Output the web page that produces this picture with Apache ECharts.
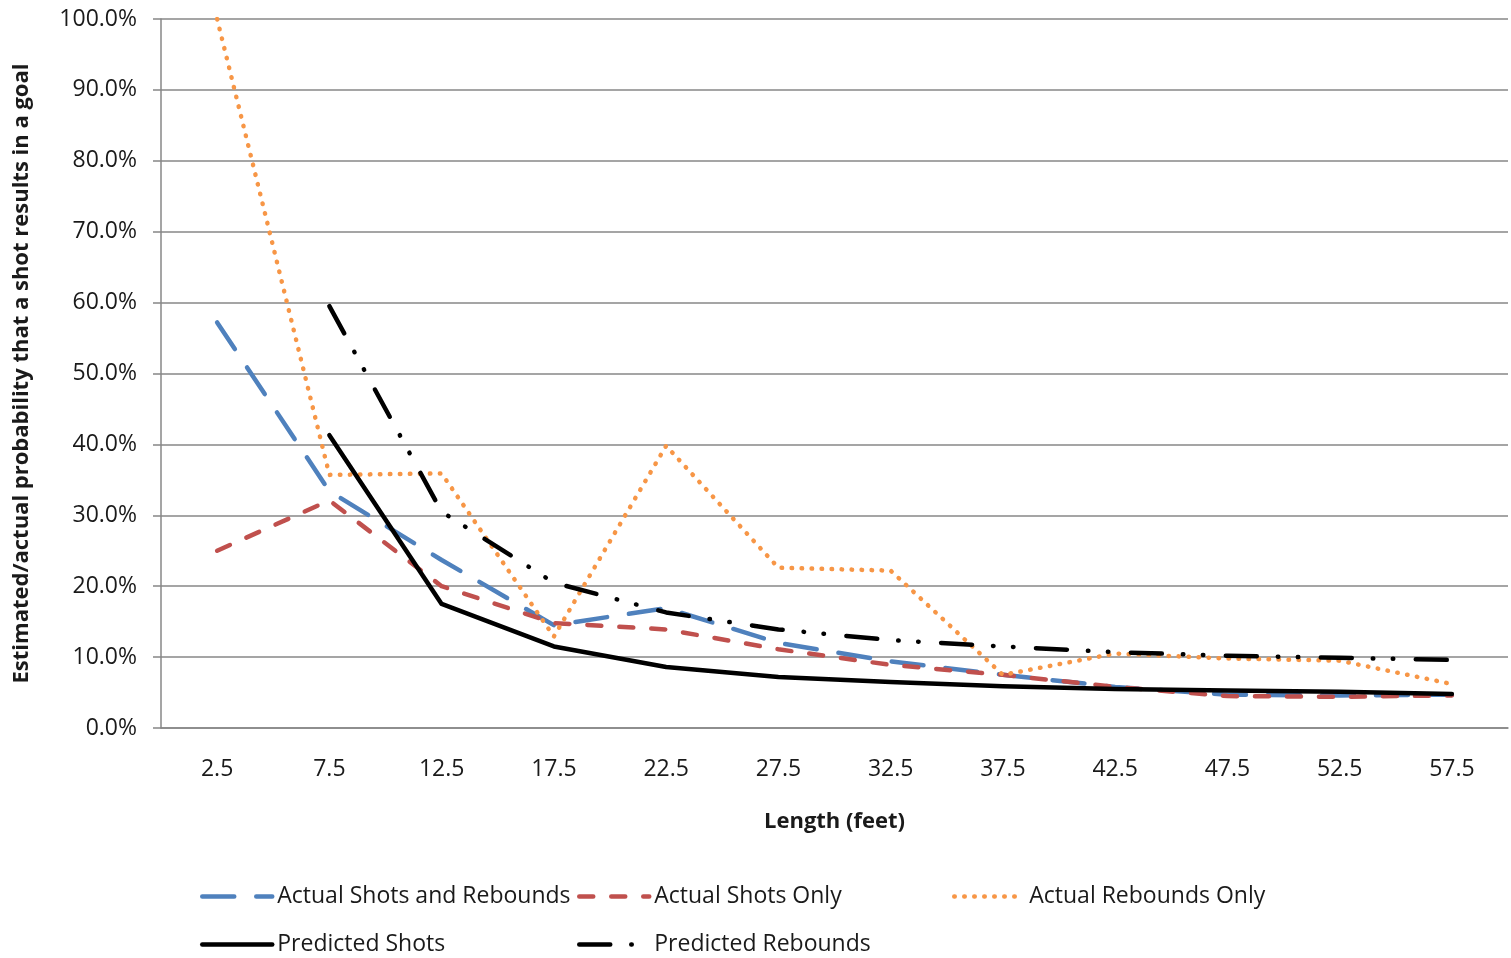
<!DOCTYPE html>
<html>
<head>
<meta charset="utf-8">
<title>Shot length vs goal probability</title>
<script src="https://cdn.jsdelivr.net/npm/echarts@6/dist/echarts.min.js"></script>
<style>
  html, body { margin: 0; padding: 0; background: #fff; }
  #chart { width: 1511px; height: 958px; }
</style>
</head>
<body>
<div id="chart"></div>
<script>
// Shot length buckets (feet)
const lengths = ['2.5', '7.5', '12.5', '17.5', '22.5', '27.5', '32.5', '37.5', '42.5', '47.5', '52.5', '57.5'];

// Probability (%) that a shot results in a goal
const actualShotsAndRebounds = [57.2, 33.4, 23.7, 14.5, 16.9, 12.0, 9.4, 7.5, 5.8, 4.7, 4.6, 4.7];
const actualShotsOnly        = [25.0, 32.1, 20.0, 14.8, 13.9, 11.1, 8.9, 7.5, 5.8, 4.5, 4.4, 4.6];
const actualReboundsOnly     = [100.0, 35.7, 35.9, 12.9, 39.8, 22.6, 22.2, 7.5, 10.5, 9.8, 9.5, 6.2];
const predictedShots         = [null, 41.3, 17.5, 11.5, 8.6, 7.2, 6.5, 5.9, 5.5, 5.3, 5.1, 4.8];
const predictedRebounds      = [null, 59.5, 30.5, 20.5, 16.3, 13.9, 12.4, 11.5, 10.7, 10.2, 9.9, 9.6];

const FONT = '"Open Sans", "DejaVu Sans", sans-serif';
const GRID_COLOR = '#878787';
const TEXT_COLOR = '#1a1a1a';

// Line styles shared by the series and their legend entries
const STYLES = {
  'Actual Shots and Rebounds': { color: '#4F81BD', width: 4.5, dash: [32, 22] },
  'Actual Shots Only':         { color: '#C0504D', width: 4.5, dash: [14, 18] },
  'Actual Rebounds Only':      { color: '#F79646', width: 4.5, dash: [0.5, 9.5] },
  'Predicted Shots':           { color: '#000000', width: 4.5, dash: 'solid' },
  'Predicted Rebounds':        { color: '#000000', width: 4.5, dash: [31, 21, 0.5, 19.5, 0.5, 22.5] }
};

const chart = echarts.init(document.getElementById('chart'), null, { renderer: 'canvas' });

function lineSeries(name, data) {
  const s = STYLES[name];
  return {
    name: name,
    type: 'line',
    data: data,
    symbol: 'none',
    showSymbol: false,
    connectNulls: false,
    animation: false,
    lineStyle: { color: s.color, width: s.width, type: s.dash, cap: 'round', join: 'round' },
    itemStyle: { color: s.color, opacity: 0 }
  };
}

function legendAt(name, left, top) {
  const s = STYLES[name];
  return {
    data: [name],
    left: left,
    top: top,
    padding: 0,
    orient: 'horizontal',
    itemWidth: 70,
    itemHeight: 14,
    itemGap: 6,
    itemStyle: { opacity: 0, borderWidth: 0 },
    lineStyle: { width: s.width, color: s.color, type: s.dash, cap: 'round' },
    textStyle: { fontFamily: FONT, fontSize: 23, color: TEXT_COLOR },
    selectedMode: false
  };
}

chart.setOption({
  backgroundColor: '#ffffff',
  animation: false,
  textStyle: { fontFamily: FONT },
  grid: { left: 161, right: 3, top: 19, bottom: 230, containLabel: false },
  legend: [
    legendAt('Actual Shots and Rebounds', 200, 885),
    legendAt('Actual Shots Only', 577, 885),
    legendAt('Actual Rebounds Only', 952, 885),
    legendAt('Predicted Shots', 200, 933),
    legendAt('Predicted Rebounds', 577, 933)
  ],
  xAxis: {
    type: 'category',
    data: lengths,
    boundaryGap: true,
    name: 'Length (feet)',
    nameLocation: 'middle',
    nameGap: 83,
    nameTextStyle: { fontFamily: FONT, fontSize: 22, fontWeight: 'bold', color: TEXT_COLOR },
    axisLine: { lineStyle: { color: GRID_COLOR, width: 1.5 } },
    axisTick: { show: false },
    axisLabel: { margin: 30, fontFamily: FONT, fontSize: 23, color: TEXT_COLOR },
    splitLine: { show: false }
  },
  yAxis: {
    type: 'value',
    min: 0,
    max: 100,
    interval: 10,
    name: 'Estimated/actual probability that a shot results in a goal',
    nameLocation: 'middle',
    nameGap: 128,
    nameTextStyle: { fontFamily: FONT, fontSize: 22, fontWeight: 'bold', color: TEXT_COLOR },
    axisLine: { show: true, lineStyle: { color: GRID_COLOR, width: 1.5 } },
    axisTick: { show: true, length: 8, lineStyle: { color: GRID_COLOR, width: 1.5 } },
    axisLabel: {
      margin: 24,
      fontFamily: FONT,
      fontSize: 23,
      color: TEXT_COLOR,
      formatter: v => v.toFixed(1) + '%'
    },
    splitLine: { show: true, lineStyle: { color: GRID_COLOR, width: 1.5 } }
  },
  series: [
    lineSeries('Actual Shots and Rebounds', actualShotsAndRebounds),
    lineSeries('Actual Shots Only', actualShotsOnly),
    lineSeries('Actual Rebounds Only', actualReboundsOnly),
    lineSeries('Predicted Shots', predictedShots),
    lineSeries('Predicted Rebounds', predictedRebounds)
  ]
});
</script>
</body>
</html>
